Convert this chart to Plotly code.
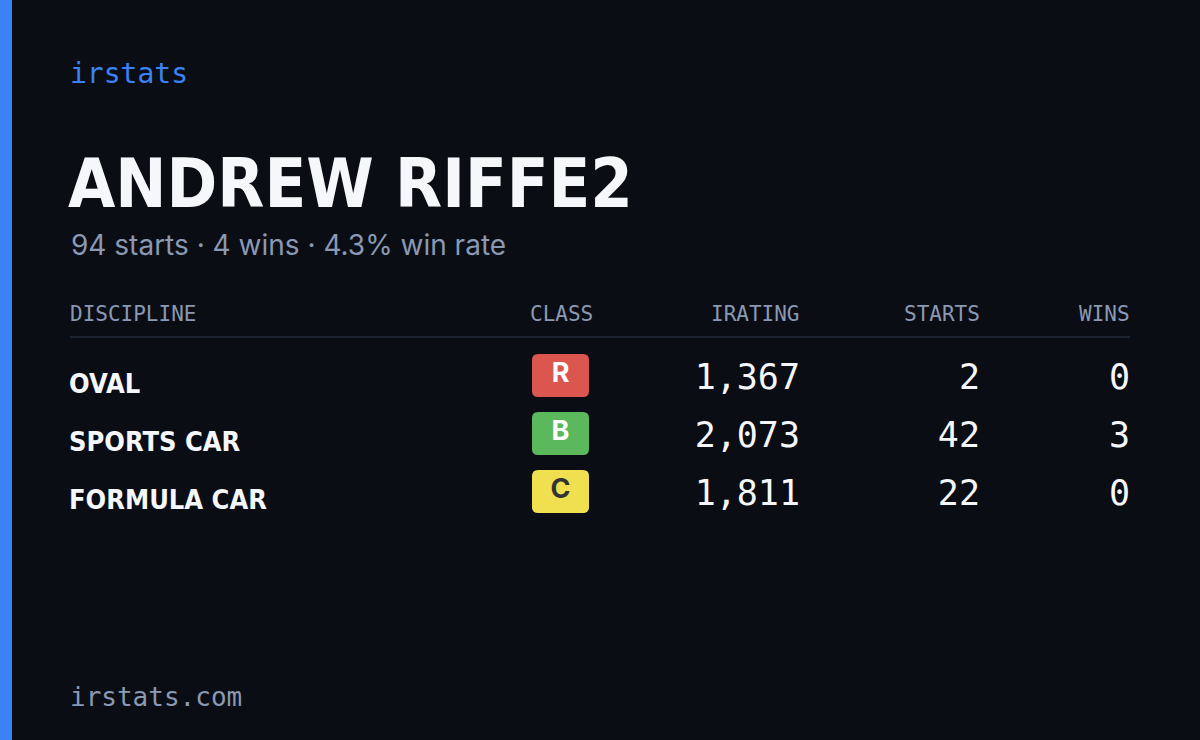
import plotly.graph_objects as go

disciplines = ["OVAL", "SPORTS CAR", "FORMULA CAR"]
classes = ["R", "B", "C"]
class_colors = ["#dc5650", "#5cb85c", "#f0e050"]
class_text_colors = ["#ffffff", "#ffffff", "#333333"]
iratings = [1367, 2073, 1811]
starts = [2, 42, 22]
wins = [0, 3, 0]
headers = ["DISCIPLINE", "CLASS", "IRATING", "STARTS", "WINS"]
name = "ANDREW RIFFE2"
total_starts, total_wins, win_rate = 94, 4, 4.3

BG = "#0a0d14"
MUTED = "#8a99b3"
WHITE = "#f5f7fb"
COND = "DejaVu Sans Condensed, Liberation Sans Narrow, sans-serif"
MONO = "DejaVu Sans Mono, monospace"

rows_y = [378 + 58 * i for i in range(len(disciplines))]
fig = go.Figure()

fig.add_trace(go.Scatter(x=[69]*3, y=[y + 8 for y in rows_y], mode="text", text=disciplines,
    textposition="middle right", textfont=dict(family=COND, size=27, color=WHITE, weight="bold"),
    hoverinfo="skip"))
for xs, vals in [(800, [f"{v:,}" for v in iratings]), (980, [str(v) for v in starts]), (1130, [str(v) for v in wins])]:
    fig.add_trace(go.Scatter(x=[xs]*3, y=[y + 2 for y in rows_y], mode="text", text=vals,
        textposition="middle left", textfont=dict(family=MONO, size=35, color=WHITE), hoverinfo="skip"))

shapes = [dict(type="rect", xref="x", yref="y", x0=0, x1=12, y0=0, y1=740, fillcolor="#3b82f6", line_width=0, layer="below"),
          dict(type="line", xref="x", yref="y", x0=70, x1=1130, y0=337, y1=337, line=dict(color="#1c2330", width=2), layer="below")]
def rr(x0, y0, x1, y1, r):
    return (f"M{x0+r},{y0} L{x1-r},{y0} Q{x1},{y0} {x1},{y0+r} L{x1},{y1-r} Q{x1},{y1} {x1-r},{y1} "
            f"L{x0+r},{y1} Q{x0},{y1} {x0},{y1-r} L{x0},{y0+r} Q{x0},{y0} {x0+r},{y0} Z")
for y, c in zip(rows_y, class_colors):
    shapes.append(dict(type="path", xref="x", yref="y", path=rr(532, y-24, 589, y+19, 6), fillcolor=c, line_width=0, layer="below"))
fig.add_trace(go.Scatter(x=[560.5]*3, y=[y - 3 for y in rows_y], mode="text", text=classes,
    textposition="middle center", textfont=dict(family="Inter, sans-serif", size=27, color=class_text_colors, weight="bold"),
    hoverinfo="skip"))

ann = [
    dict(x=68, y=73, text="irstats", xanchor="left", font=dict(family=MONO, size=28, color="#3b82f6")),
    dict(x=66, y=183, text=name, xanchor="left", font=dict(family=COND, size=68, color=WHITE, weight="bold")),
    dict(x=69, y=245, text=f"{total_starts} starts · {total_wins} wins · {win_rate}% win rate", xanchor="left",
         font=dict(family="Inter, sans-serif", size=28, color=MUTED)),
    dict(x=68, y=697, text="irstats.com", xanchor="left", font=dict(family=MONO, size=26, color=MUTED)),
]
hx = [(68, "left"), (595, "right"), (802, "right"), (982, "right"), (1132, "right")]
for h, (x, a) in zip(headers, hx):
    ann.append(dict(x=x, y=314, text=h, xanchor=a, font=dict(family=MONO, size=21, color=MUTED)))
for a in ann:
    a.update(xref="x", yref="y", showarrow=False, yanchor="middle")

fig.update_layout(width=1200, height=740, margin=dict(l=0, r=0, t=0, b=0),
    paper_bgcolor=BG, plot_bgcolor=BG, showlegend=False, shapes=shapes, annotations=ann,
    xaxis=dict(range=[0, 1200], visible=False, fixedrange=True),
    yaxis=dict(range=[740, 0], visible=False, fixedrange=True))
fig.write_html("out.html", config={"displayModeBar": False},
               post_script="document.body.style.margin='0';document.body.style.background='#0a0d14';")
